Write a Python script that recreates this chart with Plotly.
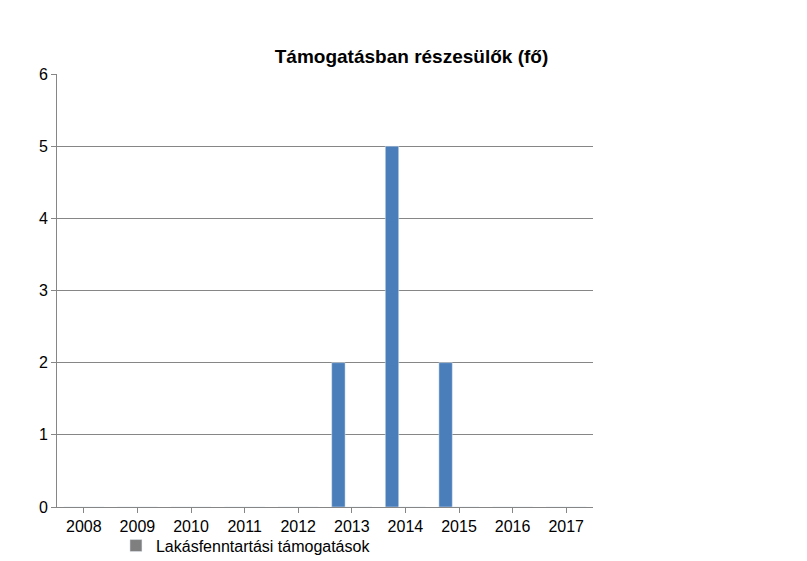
import plotly.graph_objects as go

years = ["2008", "2009", "2010", "2011", "2012", "2013", "2014", "2015", "2016", "2017"]
supported = [0, 0, 0, 0, 0, 2, 5, 2, 0, 0]
lakas = [0, 0, 0, 0, 0, 0, 0, 0, 0, 0]
adossag = [0, 0, 0, 0, 0, 0, 0, 0, 0, 0]

fig = go.Figure()
fig.add_trace(go.Bar(x=years, y=supported, marker_color="#4a7ebb", showlegend=False, name=""))
fig.add_trace(go.Bar(x=years, y=lakas, marker_color="#7f7f7f", name="Lakásfenntartási támogatások"))
fig.add_trace(go.Bar(x=years, y=adossag, marker_color="#be4b48", name="Adósságcsökkentési támogatások"))

fig.update_layout(
    width=807, height=561,
    paper_bgcolor="white", plot_bgcolor="white",
    font=dict(family="Liberation Sans", size=16, color="black"),
    title=dict(text="<b>Támogatásban részesülők (fő)</b>", x=0.5, xanchor="center", y=0.925, font=dict(size=19)),
    margin=dict(l=49, r=222, t=66, b=62, autoexpand=False),
    barmode="group", bargap=0.25, bargroupgap=0,
    legend=dict(orientation="h", x=0.11, y=-0.05, xanchor="left", yanchor="top",
                entrywidth=240, bgcolor="rgba(0,0,0,0)", font=dict(size=16)),
    shapes=[dict(type="rect", xref="paper", yref="paper", x0=-0.103, x1=1.415, y0=-0.16, y1=1.168,
                 line=dict(color="black", width=2))],
)
fig.update_yaxes(range=[0, 6], dtick=1, showgrid=True, gridcolor="#868686", zeroline=False,
                 showline=True, linecolor="#868686", ticks="outside", tickcolor="#868686")
fig.update_xaxes(showline=True, linecolor="#868686", ticks="outside", tickcolor="#868686")

fig.write_html("out.html")
